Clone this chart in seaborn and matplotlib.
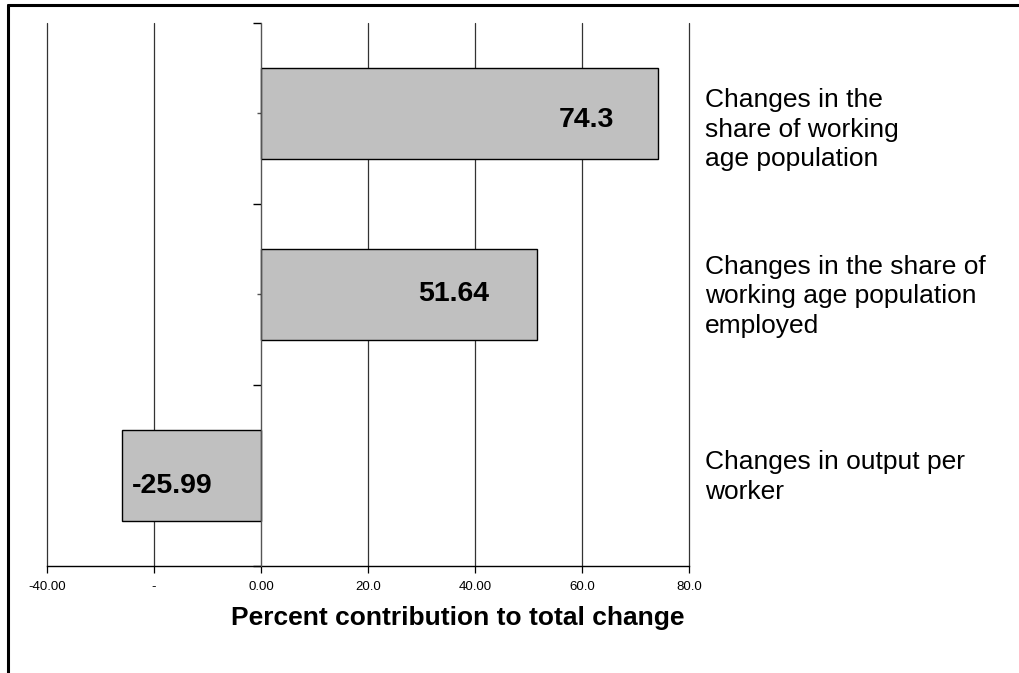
import matplotlib
matplotlib.use("Agg")
import matplotlib.pyplot as plt
import seaborn as sns
import pandas as pd
from matplotlib.lines import Line2D
from matplotlib.ticker import FixedLocator, FixedFormatter

# data
categories = [
    "Changes in the\nshare of working\nage population",
    "Changes in the share of\nworking age population\nemployed",
    "Changes in output per\nworker",
]
values = [74.3, 51.64, -25.99]
value_labels = ["74.3", "51.64", "-25.99"]
x_ticks = [-40, -20, 0, 20, 40, 60, 80]
x_tick_labels = ["-40.00", "-", "0.00", "20.0", "40.00", "60.0", "80.0"]

df = pd.DataFrame({"category": categories, "value": values})

sns.set_style("white")
plt.rcParams["font.family"] = ["Liberation Sans", "DejaVu Sans"]
plt.rcParams["text.color"] = "black"
plt.rcParams["xtick.color"] = "black"
plt.rcParams["ytick.color"] = "black"

fig = plt.figure(figsize=(10.19, 6.73), dpi=100)
ax = fig.add_axes([0.0461, 0.159, 0.630, 0.807])

# vertical grid lines
for xt in x_ticks:
    ax.axvline(xt, color="#333333", lw=0.9, zorder=0, clip_on=False)

sns.barplot(data=df, x="value", y="category", orient="h", color="#c0c0c0",
            saturation=1, edgecolor="black", linewidth=1, width=0.5, ax=ax,
            zorder=2)

ax.set_xlim(-40, 80)
ax.set_ylim(2.5, -0.5)
ax.xaxis.set_major_locator(FixedLocator(x_ticks))
ax.xaxis.set_major_formatter(FixedFormatter(x_tick_labels))
ax.tick_params(axis="x", labelsize=9.5, labelcolor="black", length=5, width=0.9,
               color="black", pad=6, bottom=True)

# y axis sits at zero, ticks on category boundaries
ax.spines["left"].set_position(("data", 0))
ax.spines["left"].set_color("#555555")
ax.spines["left"].set_zorder(3)
ax.spines["top"].set_visible(False)
ax.spines["right"].set_visible(False)
ax.spines["bottom"].set_color("black")
ax.spines["bottom"].set_linewidth(1)
ax.yaxis.set_major_locator(FixedLocator([-0.5, 0.5, 1.5, 2.5]))
ax.yaxis.set_minor_locator(FixedLocator([0, 1, 2]))
ax.set_yticklabels([])
ax.tick_params(axis="y", which="major", left=True, length=6, width=1, color="black")
ax.tick_params(axis="y", which="minor", left=True, length=3, width=1, color="#555555")
ax.set_ylabel("")
ax.set_xlabel("")

# value labels inside bars
label_x = [60.8, 36.0, -16.6]
label_dy = [0.035, 0.0, 0.06]
for i, (lx, dy, txt) in enumerate(zip(label_x, label_dy, value_labels)):
    ax.text(lx, i + dy, txt, ha="center", va="center", fontsize=20.5,
            fontweight="bold", color="black", zorder=4)

# category labels on the right
for i, cat in enumerate(categories):
    ax.text(1.025, i + (0.09 if i == 0 else 0.01), cat,
            transform=ax.get_yaxis_transform(), ha="left", va="center",
            fontsize=19, linespacing=1.3, color="black")

fig.text(458 / 1019, 1 - 618 / 673, "Percent contribution to total change",
         ha="center", va="center", fontsize=19, fontweight="bold", color="black")

# outer border
fig.add_artist(Line2D([8 / 1019, 1.0], [1 - 5 / 673, 1 - 5 / 673],
                      transform=fig.transFigure, color="black", lw=2.2))
fig.add_artist(Line2D([8 / 1019, 8 / 1019], [0, 1 - 5 / 673],
                      transform=fig.transFigure, color="black", lw=2.2))

fig.savefig("out.png", dpi=100)
